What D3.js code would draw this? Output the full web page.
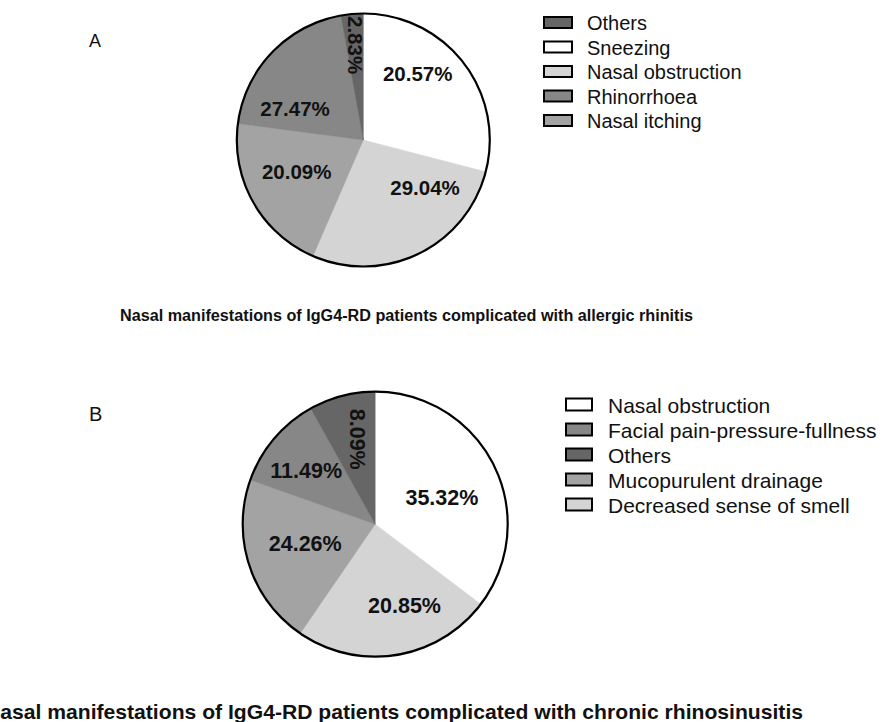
<!DOCTYPE html>
<html><head><meta charset="utf-8">
<script src="https://cdn.jsdelivr.net/npm/d3@7/dist/d3.min.js"></script>
<style>html,body{margin:0;padding:0;background:#fff;}svg{display:block;font-family:"Liberation Sans",Arial,sans-serif;}</style>
</head><body>
<svg id="c" width="884" height="722"></svg>
<script>
// ---- Data: panel A (allergic rhinitis) ----
const catsA = ["Sneezing", "Nasal obstruction", "Nasal itching", "Rhinorrhoea", "Others"];
const valuesA = [29.04, 27.47, 20.57, 20.09, 2.83];           // slice sizes as drawn
const labelsA = ["20.57%", "29.04%", "20.09%", "27.47%", "2.83%"]; // text printed in each slice
const legendA = ["Others", "Sneezing", "Nasal obstruction", "Rhinorrhoea", "Nasal itching"];
const titleA = "Nasal manifestations of IgG4-RD patients complicated with allergic rhinitis";

// ---- Data: panel B (chronic rhinosinusitis) ----
const catsB = ["Nasal obstruction", "Decreased sense of smell", "Mucopurulent drainage", "Facial pain-pressure-fullness", "Others"];
const valuesB = [35.32, 24.26, 20.85, 11.49, 8.09];
const labelsB = ["35.32%", "20.85%", "24.26%", "11.49%", "8.09%"];
const legendB = ["Nasal obstruction", "Facial pain-pressure-fullness", "Others", "Mucopurulent drainage", "Decreased sense of smell"];
const titleB = "Nasal manifestations of IgG4-RD patients complicated with chronic rhinosinusitis";

// ---- Styles ----
const fillA = {"Sneezing": "#ffffff", "Nasal obstruction": "#d4d4d4", "Nasal itching": "#a3a3a3", "Rhinorrhoea": "#878787", "Others": "#666666"};
const fillB = {"Nasal obstruction": "#ffffff", "Decreased sense of smell": "#d4d4d4", "Mucopurulent drainage": "#a3a3a3", "Facial pain-pressure-fullness": "#878787", "Others": "#666666"};

const svg = d3.select("#c");

function panel(cfg) {
  const g = svg.append("g").attr("transform", `translate(${cfg.cx},${cfg.cy})`);
  const pie = d3.pie().sort(null).value(d => d.v);
  const data = cfg.cats.map((c, i) => ({c, v: cfg.values[i], t: cfg.labels[i], lp: cfg.labelPos[i]}));
  const arcs = pie(data);
  const arc = d3.arc().innerRadius(0).outerRadius(cfg.r);
  g.selectAll("path.s").data(arcs).join("path").attr("class", "s")
    .attr("d", arc).attr("fill", d => cfg.fill[d.data.c]).attr("stroke", d => cfg.fill[d.data.c]).attr("stroke-width", 0.5);
  g.append("circle").attr("r", cfg.r).attr("fill", "none").attr("stroke", "#000").attr("stroke-width", 2.2);
  const ang = d3.scaleLinear().domain([0, 360]).range([0, 2 * Math.PI]);
  g.selectAll("text.l").data(arcs).join("text").attr("class", "l")
    .attr("transform", d => {
      const a = ang(d.data.lp[0]), rr = d.data.lp[1] * cfg.r;
      const x = Math.sin(a) * rr, y = -Math.cos(a) * rr;
      return `translate(${x},${y}) rotate(${d.data.lp[2] || 0})`;
    })
    .attr("text-anchor", "middle").attr("dy", "0.36em")
    .attr("font-weight", "bold").attr("font-size", cfg.labelSize).attr("fill", "#111")
    .text(d => d.data.t);

  // legend
  const lg = svg.append("g");
  const rows = lg.selectAll("g").data(cfg.legend).join("g")
    .attr("transform", (d, i) => `translate(0,${cfg.legY + i * cfg.legStep})`);
  rows.append("rect").attr("x", cfg.swX).attr("y", -cfg.swH / 2 - 0.5).attr("width", cfg.swW).attr("height", cfg.swH)
    .attr("fill", d => cfg.fill[d]).attr("stroke", "#000").attr("stroke-width", 2);
  rows.append("text").attr("x", cfg.txX).attr("dy", "0.36em").attr("font-size", cfg.legSize).attr("fill", "#111").text(d => d);

  // panel letter
  svg.append("text").attr("x", cfg.letter[0]).attr("y", cfg.letter[1]).attr("font-size", cfg.letter[3]).attr("fill", "#111").text(cfg.letter[2]);
  // title (fitted between given left/right edges)
  svg.append("text").attr("x", cfg.title[0]).attr("y", cfg.title[1])
    .attr("font-size", cfg.title[2]).attr("font-weight", "bold").attr("fill", "#111")
    .attr("textLength", cfg.title[3] - cfg.title[0]).attr("lengthAdjust", "spacingAndGlyphs")
    .text(cfg.titleText);
}

panel({
  cx: 363.3, cy: 140, r: 126.5, cats: catsA, values: valuesA, labels: labelsA, legend: legendA, fill: fillA,
  labelPos: [[39.2, 0.68], [127.7, 0.617], [244.5, 0.583], [294.9, 0.595], [355.2, 0.753, 90]],
  labelSize: 20.5, legY: 23, legStep: 24.5, swX: 544, swW: 28, swH: 11, txX: 587, legSize: 20,
  letter: [89, 47, "A", 18], title: [120, 320.5, 16, 693], titleText: titleA
});
panel({
  cx: 375.2, cy: 524.2, r: 132.5, cats: catsB, values: valuesB, labels: labelsB, legend: legendB, fill: fillB,
  labelPos: [[67.7, 0.544], [160.1, 0.65], [254.6, 0.548], [308, 0.661], [348.2, 0.655, 90]],
  labelSize: 21.5, legY: 405, legStep: 25, swX: 566, swW: 26, swH: 12, txX: 608, legSize: 21,
  letter: [89, 420.5, "B", 20], title: [-15, 719, 20.5, 803], titleText: titleB
});
</script>
</body></html>
